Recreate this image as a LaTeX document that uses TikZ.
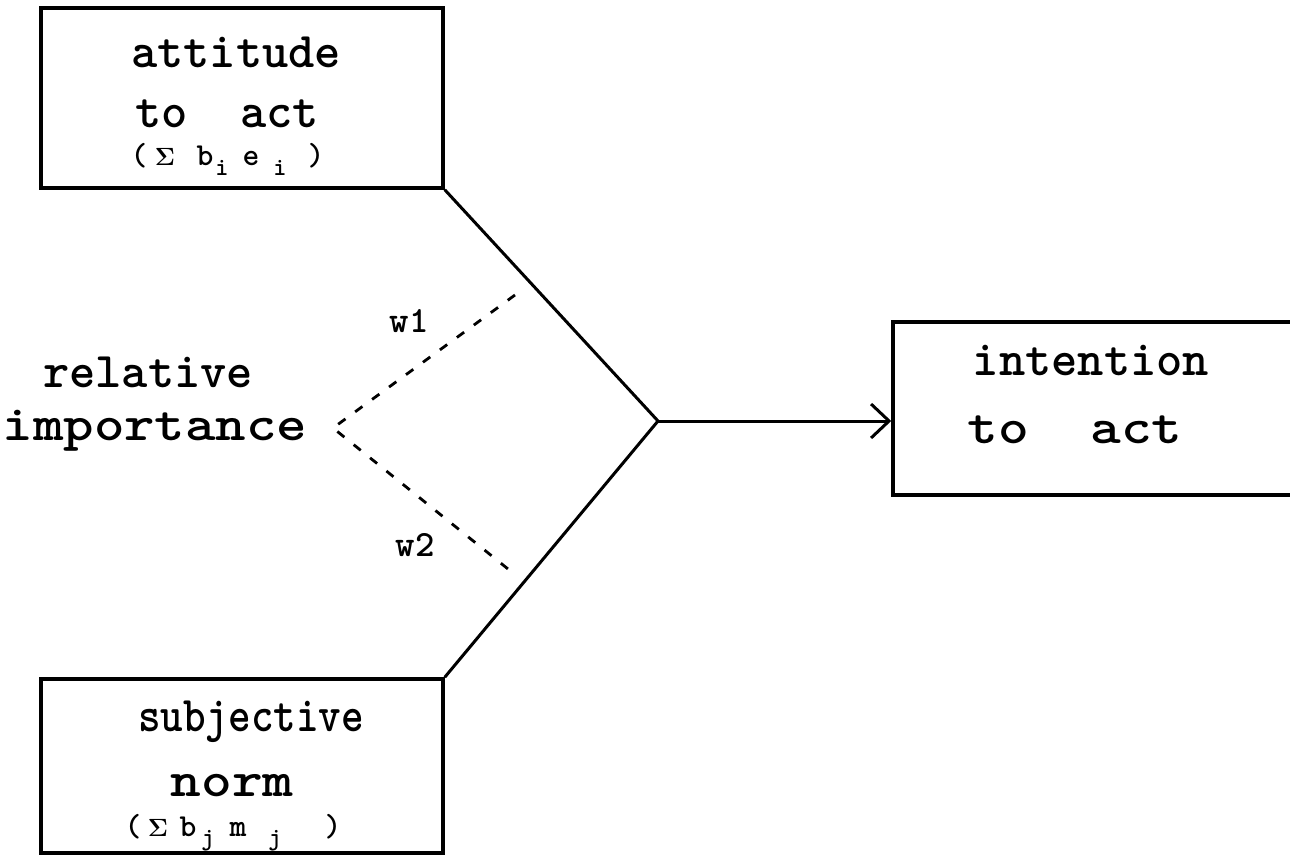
\documentclass[tikz,border=0pt]{standalone}
\usetikzlibrary{arrows.meta}
% lowered subscript used in the weighted sums
\newcommand\lowsub[1]{\raisebox{-0.3em}{\fontsize{25}{25}\selectfont #1}}
% zero-width slot, centred on the current point
\newcommand\slot[1]{\makebox[0pt][c]{#1}}
% heavy summation sign
\newcommand\bigsum{{\fontsize{34}{34}\selectfont\boldmath$\Sigma$}}
\begin{document}
\begin{tikzpicture}[x=1pt,y=-1pt,
  box/.style={draw, line width=3.5pt, inner sep=0pt},
  conn/.style={line width=3pt},
  weightline/.style={line width=2.8pt, dash pattern=on 9pt off 12pt},
  lbl/.style={font=\fontsize{50}{50}\selectfont\ttfamily\bfseries, anchor=base, inner sep=0pt},
  sumlbl/.style={font=\fontsize{32}{32}\selectfont\ttfamily\bfseries, anchor=base, inner sep=0pt},
  wlbl/.style={font=\fontsize{37}{37}\selectfont\ttfamily\bfseries, anchor=base, inner sep=0pt},
  barb/.tip={Straight Barb[length=18pt,width=34pt,line width=3pt]}]
\useasboundingbox (0,0) rectangle (1290,858);
\clip (0,0) rectangle (1290,858);

% the three boxes
\node[box, minimum width=402pt, minimum height=180pt] (att) at (242,98) {};
\node[box, minimum width=402pt, minimum height=174pt] (sub) at (242,766) {};
\node[box, minimum width=407pt, minimum height=173pt] (int) at (1096.5,408.5) {};

% box texts
\node[lbl] (attA) at (236,68) {attitude};
\node[lbl] (attB) at (227,128) {to\ \ act};
\node[sumlbl] (attC) at (227.5,166) {\slot{(}\hspace{26pt}\slot{\bigsum}\hspace{40pt}\slot{b}\hspace{17pt}\slot{\lowsub{i}}\hspace{29pt}\slot{e}\hspace{29pt}\slot{\lowsub{i}}\hspace{36pt}\slot{)}};

\node[lbl] (subA) at (251,731) {\scalebox{0.86}[1]{subjective}};
\node[lbl] (subB) at (232,796) {\scalebox{1.17}[1]{norm}};
\node[sumlbl] (subC) at (233,836) {\slot{(}\hspace{25pt}\slot{\bigsum}\hspace{30pt}\slot{b}\hspace{20pt}\slot{\lowsub{j}}\hspace{30pt}\slot{m}\hspace{37pt}\slot{\lowsub{j}}\hspace{58pt}\slot{)}};

\node[lbl] (intA) at (1091,375) {intention};
\node[lbl] (intB) at (1075,443) {\scalebox{1.17}[1]{to\ \ act}};

% weighting label
\node[lbl] (relA) at (148,387) {relative};
\node[lbl] (relB) at (155,440) {\scalebox{1.16}[1]{importance}};

% combination of the two components into the intention
\coordinate (junc) at (658,421);
\draw[conn] (att.south east) -- (junc) -- (sub.north east);
\draw[conn, -barb] (junc) -- (junc -| int.west);

% relative weights
\coordinate (wtop) at (515,295);
\coordinate (wapex) at (333,428);
\coordinate (wbot) at (513,573);
\draw[weightline] (wtop) -- (wapex) -- (wbot);
\node[wlbl] (w1) at (409,333) {w1};
\node[wlbl] (w2) at (415,556) {w2};
\end{tikzpicture}
\end{document}
